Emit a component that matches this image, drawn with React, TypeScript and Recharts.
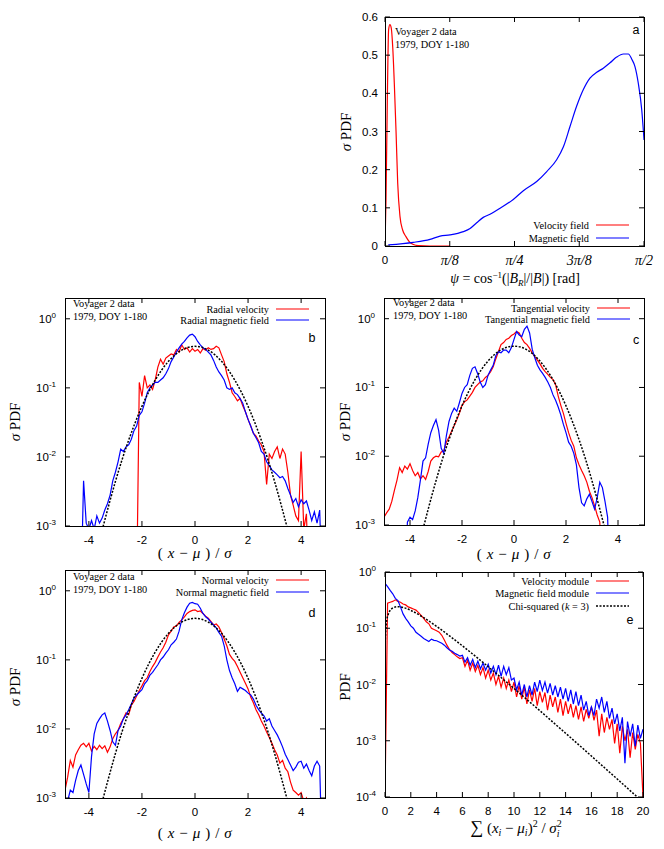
import React from 'react';
import { LineChart, Line, XAxis, YAxis } from 'recharts';

const SERIF = '"Liberation Serif", "DejaVu Serif", serif';
const SANS = '"Liberation Sans", Arial, sans-serif';
const RED = '#ff0000';
const BLUE = '#0000ff';

type Pt = { x: number; y: number };
const onGrid = (x0: number, step: number, ys: number[]): Pt[] =>
  ys.map((y, i) => ({ x: Math.round((x0 + i * step) * 1000) / 1000, y }));
const zip = (xs: number[], ys: number[]): Pt[] => xs.map((x, i) => ({ x, y: ys[i] }));

// panel a: angle PDF (x in rad)
const aVelX = [0, 0.006, 0.014, 0.022, 0.03, 0.038, 0.047, 0.057, 0.067, 0.077, 0.091, 0.107, 0.127, 0.148, 0.172, 0.202, 0.273, 0.394];
const aVelY = [0, 0.12, 0.38, 0.567, 0.58, 0.571, 0.52, 0.42, 0.3, 0.165, 0.077, 0.042, 0.0245, 0.011, 0.004, 0.001, 0, 0];
const aMagX = [0.02, 0.172, 0.273, 0.334, 0.394, 0.475, 0.516, 0.556, 0.596, 0.637, 0.698, 0.778, 0.839, 0.92, 0.981, 1.041,
  1.082, 1.122, 1.162, 1.203, 1.243, 1.284, 1.324, 1.365, 1.405, 1.446, 1.476, 1.496, 1.516, 1.536, 1.557, 1.571];
const aMagY = [0.003, 0.0096, 0.0175, 0.026, 0.029, 0.0376, 0.046, 0.061, 0.075, 0.083, 0.099, 0.122, 0.145, 0.169, 0.195, 0.226,
  0.26, 0.313, 0.366, 0.41, 0.44, 0.455, 0.466, 0.48, 0.495, 0.503, 0.503, 0.49, 0.47, 0.427, 0.357, 0.278];

const gaussX = [-3.5, -3.25, -3, -2.75, -2.5, -2.25, -2, -1.75, -1.5, -1.25, -1, -0.75, -0.5, -0.25, 0,
  0.25, 0.5, 0.75, 1, 1.25, 1.5, 1.75, 2, 2.25, 2.5, 2.75, 3, 3.25, 3.5];
const gaussY = [0.00087, 0.002, 0.0044, 0.0091, 0.0175, 0.0317, 0.054, 0.0863, 0.1295, 0.1826, 0.242, 0.3011, 0.3521, 0.3867, 0.3989,
  0.3867, 0.3521, 0.3011, 0.242, 0.1826, 0.1295, 0.0863, 0.054, 0.0317, 0.0175, 0.0091, 0.0044, 0.002, 0.00087];

// panel b: radial (x from start, step 0.1)
const bVelY = [0.0001, 0.12, 0.075, 0.15, 0.1, 0.11, 0.095, 0.13, 0.2, 0.26, 0.22, 0.27, 0.29, 0.31, 0.3, 0.36, 0.33, 0.42, 0.36, 0.38,
  0.33, 0.37, 0.34, 0.36, 0.32, 0.37, 0.35, 0.38, 0.36, 0.37, 0.4, 0.38, 0.3, 0.24, 0.16, 0.12, 0.085, 0.075, 0.065, 0.07,
  0.055, 0.045, 0.035, 0.028, 0.022, 0.02, 0.017, 0.015, 0.012, 0.004, 0.011, 0.0095, 0.012, 0.014, 0.0095, 0.013, 0.011, 0.006, 0.0028, 0.002,
  0.0014, 0.0012, 0.012, 0.0009, 0.0015, 0.0001];
const bMagY = [0.0001, 0.0045, 0.0011, 0.0009, 0.0012, 0.0009, 0.0014, 0.0011, 0.0013, 0.0017, 0.0021, 0.0028, 0.0045, 0.006, 0.0085, 0.013,
  0.012, 0.014, 0.015, 0.018, 0.024, 0.028, 0.04, 0.045, 0.06, 0.085, 0.1, 0.11, 0.12, 0.12, 0.13, 0.14, 0.16, 0.19, 0.24, 0.28,
  0.33, 0.38, 0.43, 0.47, 0.53, 0.58, 0.6, 0.55, 0.47, 0.42, 0.38, 0.36, 0.33, 0.3, 0.25, 0.2, 0.17, 0.15, 0.13, 0.1, 0.095,
  0.1, 0.085, 0.08, 0.07, 0.06, 0.045, 0.035, 0.028, 0.022, 0.019, 0.016, 0.012, 0.011, 0.0085, 0.0075, 0.0065, 0.006, 0.0055,
  0.005, 0.0052, 0.0045, 0.0035, 0.0028, 0.0022, 0.0025, 0.0019, 0.0024, 0.0021, 0.0023, 0.0017, 0.0012, 0.0016, 0.0011, 0.0017, 0.0001];

// panel c: tangential
const cVelY = [0.0013, 0.0015, 0.0017, 0.0022, 0.0032, 0.0045, 0.0068, 0.0058, 0.0072, 0.0065, 0.0078, 0.0062, 0.0052, 0.0058, 0.0047,
  0.0052, 0.0046, 0.006, 0.0085, 0.0095, 0.01, 0.0098, 0.0115, 0.012, 0.016, 0.019, 0.023, 0.028, 0.034, 0.042, 0.055, 0.062,
  0.066, 0.075, 0.085, 0.1, 0.11, 0.12, 0.125, 0.14, 0.15, 0.17, 0.2, 0.26, 0.33, 0.42, 0.45, 0.5, 0.52, 0.57, 0.6, 0.65, 0.62,
  0.52, 0.45, 0.42, 0.37, 0.32, 0.28, 0.25, 0.22, 0.19, 0.17, 0.155, 0.14, 0.13, 0.11, 0.075, 0.055, 0.042, 0.03, 0.022, 0.017,
  0.014, 0.0095, 0.0075, 0.0062, 0.0052, 0.0042, 0.0031, 0.0025, 0.0019, 0.0014, 0.0011, 0.0001];
const cMagY = [0.0001, 0.0011, 0.0013, 0.0012, 0.0016, 0.0025, 0.0045, 0.0085, 0.0095, 0.015, 0.022, 0.028, 0.034, 0.024, 0.013, 0.011,
  0.02, 0.032, 0.042, 0.05, 0.045, 0.06, 0.082, 0.1, 0.11, 0.15, 0.19, 0.2, 0.16, 0.12, 0.1, 0.11, 0.15, 0.18, 0.21, 0.29, 0.33,
  0.32, 0.35, 0.35, 0.32, 0.38, 0.5, 0.65, 0.58, 0.55, 0.7, 0.78, 0.62, 0.36, 0.27, 0.21, 0.18, 0.16, 0.14, 0.12, 0.1, 0.078,
  0.065, 0.052, 0.04, 0.029, 0.022, 0.016, 0.014, 0.011, 0.0075, 0.0035, 0.0021, 0.0019, 0.0024, 0.0028, 0.0022, 0.0017, 0.0025,
  0.0042, 0.0035, 0.0022, 0.0013, 0.0001];

// panel d: normal
const dVelY = [0.0013, 0.002, 0.0035, 0.0028, 0.0042, 0.005, 0.0058, 0.0062, 0.0055, 0.0062, 0.0048, 0.0056, 0.005, 0.0058, 0.0052,
  0.0057, 0.0046, 0.0055, 0.0072, 0.0085, 0.0095, 0.012, 0.014, 0.017, 0.016, 0.022, 0.025, 0.03, 0.036, 0.042, 0.05, 0.055,
  0.068, 0.08, 0.092, 0.11, 0.13, 0.15, 0.18, 0.23, 0.26, 0.3, 0.31, 0.35, 0.38, 0.42, 0.47, 0.5, 0.52, 0.53, 0.5, 0.51, 0.47,
  0.43, 0.4, 0.36, 0.32, 0.33, 0.3, 0.25, 0.2, 0.16, 0.12, 0.105, 0.095, 0.08, 0.066, 0.055, 0.046, 0.038, 0.029, 0.024, 0.019,
  0.016, 0.013, 0.011, 0.009, 0.0075, 0.0062, 0.005, 0.0042, 0.0032, 0.0035, 0.0027, 0.0024, 0.0017, 0.0013, 0.0012, 0.0011,
  0.0012, 0.0009, 0.001, 0.0001];
const dMagY = [0.0001, 0.0009, 0.0013, 0.0012, 0.0018, 0.0025, 0.003, 0.0022, 0.0016, 0.0012, 0.004, 0.0085, 0.012, 0.014, 0.016, 0.017,
  0.013, 0.0095, 0.0065, 0.0058, 0.0095, 0.011, 0.014, 0.016, 0.019, 0.023, 0.028, 0.031, 0.034, 0.037, 0.045, 0.05, 0.06, 0.066,
  0.075, 0.085, 0.1, 0.11, 0.125, 0.14, 0.165, 0.18, 0.2, 0.26, 0.38, 0.48, 0.58, 0.66, 0.68, 0.65, 0.64, 0.56, 0.47, 0.42, 0.39,
  0.35, 0.32, 0.29, 0.25, 0.22, 0.16, 0.1, 0.07, 0.055, 0.045, 0.035, 0.04, 0.038, 0.036, 0.033, 0.031, 0.027, 0.022, 0.019,
  0.017, 0.0155, 0.013, 0.014, 0.011, 0.0095, 0.0082, 0.0068, 0.0055, 0.0043, 0.0036, 0.003, 0.0025, 0.0028, 0.0033, 0.0034,
  0.0027, 0.0031, 0.0025, 0.0021, 0.0029, 0.0034, 0.0029, 0.0001];

// panel e: module PDFs (x from 0, step 0.2; one row = 2 units)
const eVelY = [
  0.0001, 0.28, 0.29, 0.3, 0.32, 0.3, 0.29, 0.27, 0.26, 0.24,
  0.23, 0.22, 0.21, 0.19, 0.17, 0.15, 0.13, 0.12, 0.1, 0.095,
  0.09, 0.085, 0.075, 0.062, 0.05, 0.042, 0.037, 0.034, 0.031, 0.029,
  0.03, 0.021, 0.027, 0.018, 0.024, 0.017, 0.022, 0.015, 0.02, 0.013,
  0.018, 0.012, 0.016, 0.01, 0.014, 0.009, 0.013, 0.0085, 0.012, 0.0075,
  0.011, 0.006, 0.0095, 0.0055, 0.009, 0.0045, 0.008, 0.005, 0.0085, 0.0042,
  0.0075, 0.0048, 0.0072, 0.0035, 0.0065, 0.004, 0.006, 0.0032, 0.0055, 0.0028,
  0.005, 0.003, 0.0045, 0.0026, 0.0042, 0.0024, 0.004, 0.0022, 0.0036, 0.0025,
  0.004, 0.0023, 0.0035, 0.0012, 0.003, 0.0014, 0.0026, 0.0016, 0.0024, 0.0009,
  0.002, 0.0006, 0.0018, 0.001, 0.0016, 0.0005, 0.0014, 0.0007, 0.0013, 0.0009,
  0.0001];
const eMagY = [
  0.63, 0.55, 0.47, 0.41, 0.34, 0.31, 0.24, 0.18, 0.15, 0.13,
  0.11, 0.1, 0.085, 0.078, 0.072, 0.066, 0.062, 0.058, 0.064, 0.061,
  0.06, 0.057, 0.054, 0.05, 0.045, 0.041, 0.039, 0.036, 0.034, 0.032,
  0.033, 0.025, 0.03, 0.022, 0.028, 0.02, 0.026, 0.019, 0.024, 0.018,
  0.023, 0.016, 0.021, 0.015, 0.022, 0.014, 0.021, 0.015, 0.02, 0.012,
  0.013, 0.008, 0.011, 0.0065, 0.01, 0.006, 0.0095, 0.0065, 0.011, 0.0075,
  0.012, 0.0078, 0.011, 0.007, 0.0105, 0.0065, 0.0095, 0.006, 0.009, 0.0055,
  0.0085, 0.005, 0.008, 0.0045, 0.0075, 0.0042, 0.0065, 0.0035, 0.005, 0.0028,
  0.004, 0.0028, 0.0055, 0.0038, 0.006, 0.0032, 0.005, 0.0025, 0.0038, 0.002,
  0.003, 0.0015, 0.0026, 0.0004, 0.0022, 0.0012, 0.002, 0.0008, 0.0019, 0.0011,
  0.0016];
const chiX = [0, 0.02, 0.1, 0.25, 0.5, 0.75, 1, 1.5, 2, 3, 4, 5, 6, 7, 8, 9, 10, 11, 12, 13, 14, 15, 16, 17, 18, 19, 20];
const chiY = [0.0001, 0.0559, 0.12, 0.176, 0.2197, 0.2375, 0.242, 0.2308, 0.2076, 0.1542, 0.108, 0.0732, 0.0487, 0.0319, 0.0207, 0.0133,
  0.0085, 0.0054, 0.00343, 0.00216, 0.00136, 0.000855, 0.000535, 0.000334, 0.000209, 0.00013, 0.000081];

const gTicks = [-4, -2, 0, 2, 4];
const logTicks3 = [0.001, 0.01, 0.1, 1];
const piTicks = [0, Math.PI / 8, Math.PI / 4, (3 * Math.PI) / 8, Math.PI / 2];
const piLabels = ['0', 'π/8', 'π/4', '3π/8', 'π/2'];

type Box = { left: number; top: number; w: number; h: number };
type Plot = { l: number; t: number; w: number; h: number };
type S = { data: Pt[]; color: string; dashed?: boolean; smooth?: boolean };

function Panel(props: {
  box: Box; plot: Plot; xDomain: [number, number]; xTicks: number[]; yDomain: [number, number]; yTicks: number[];
  log?: boolean; pi?: boolean; series: S[];
}) {
  const { box, plot } = props;
  const top = plot.t - box.top;
  const left = plot.l - box.left;
  const bottom = top + plot.h;
  const right = left + plot.w;

  const XTick = (p: any) => {
    const x = p.x;
    const v = p.payload.value;
    let label: React.ReactNode;
    if (props.pi) {
      const idx = piTicks.findIndex((t) => Math.abs(t - v) < 1e-6);
      label = idx === 0
        ? <text x={x} y={bottom + 14} dy="0.35em" textAnchor="middle" fontFamily={SANS} fontSize={11.5}>0</text>
        : <text x={x} y={bottom + 14} dy="0.35em" textAnchor="middle" fontFamily={SERIF} fontStyle="italic" fontSize={14}>{piLabels[idx]}</text>;
    } else {
      label = <text x={x} y={bottom + 14} dy="0.35em" textAnchor="middle" fontFamily={SANS} fontSize={11.5}>{String(v)}</text>;
    }
    return (
      <g>
        <line x1={x} x2={x} y1={bottom} y2={bottom - 5} stroke="#000" />
        <line x1={x} x2={x} y1={top} y2={top + 5} stroke="#000" />
        {label}
      </g>
    );
  };

  const YTick = (p: any) => {
    const y = p.y;
    const v = p.payload.value;
    const label = props.log ? (
      <text x={left - 9} y={y} dy="0.35em" textAnchor="end" fontFamily={SANS} fontSize={11.5}>
        10<tspan dy={-5} fontSize={8}>{String(Math.round(Math.log10(v)))}</tspan>
      </text>
    ) : (
      <text x={left - 7} y={y} dy="0.35em" textAnchor="end" fontFamily={SANS} fontSize={11.5}>{String(v)}</text>
    );
    return (
      <g>
        <line x1={left} x2={left + 5} y1={y} y2={y} stroke="#000" />
        <line x1={right} x2={right - 5} y1={y} y2={y} stroke="#000" />
        {label}
      </g>
    );
  };

  return (
    <div style={{ position: 'absolute', left: box.left, top: box.top }}>
      <LineChart width={box.w} height={box.h} margin={{ top, right: box.w - right, left: 0, bottom: 0 }}>
        <XAxis type="number" dataKey="x" domain={props.xDomain} ticks={props.xTicks} allowDataOverflow
          axisLine={false} tickLine={false} tick={XTick} height={box.h - bottom} interval={0} />
        <YAxis type="number" dataKey="y" domain={props.yDomain} ticks={props.yTicks} allowDataOverflow
          scale={props.log ? 'log' : 'linear'} axisLine={false} tickLine={false} tick={YTick} width={left} interval={0} />
        {props.series.map((s, i) => (
          <Line key={i} data={s.data} dataKey="y" type={s.smooth ? 'monotone' : 'linear'} stroke={s.color}
            strokeWidth={s.dashed ? 1.5 : 1.2} strokeDasharray={s.dashed ? '2 1.5' : undefined}
            dot={false} activeDot={false} isAnimationActive={false} />
        ))}
      </LineChart>
    </div>
  );
}

const Key = ({ x, y, color, dashed, children }: { x: number; y: number; color: string; dashed?: boolean; children: React.ReactNode }) => (
  <g>
    <text x={x} y={y} dy="0.35em" textAnchor="end" fontFamily={SERIF} fontSize={10.3}>{children}</text>
    <line x1={x + 7} x2={x + 40} y1={y} y2={y} stroke={color} strokeWidth={dashed ? 1.5 : 1.2} strokeDasharray={dashed ? '2 1.5' : undefined} />
  </g>
);

const Note = ({ x, y }: { x: number; y: number }) => (
  <g fontFamily={SERIF} fontSize={10.3}>
    <text x={x} y={y} dy="0.35em">Voyager 2 data</text>
    <text x={x} y={y + 13} dy="0.35em">1979, DOY 1-180</text>
  </g>
);

const YLab = ({ x, y, sigma = true }: { x: number; y: number; sigma?: boolean }) => (
  <text x={x} y={y} dy="0.35em" textAnchor="middle" transform={`rotate(-90 ${x} ${y})`} fontFamily={SERIF} fontSize={15}>
    {sigma ? <tspan fontStyle="italic">σ </tspan> : null}PDF
  </text>
);

const XLabG = ({ x, y }: { x: number; y: number }) => (
  <text x={x} y={y} dy="0.35em" textAnchor="middle" fontFamily={SERIF} fontSize={15} letterSpacing={0.6}>
    ( <tspan fontStyle="italic">x</tspan> − <tspan fontStyle="italic">μ</tspan> ) / <tspan fontStyle="italic">σ</tspan>
  </text>
);

const Frame = ({ p }: { p: Plot }) => <rect x={p.l + 0.5} y={p.t + 0.5} width={p.w} height={p.h} fill="none" stroke="#000" strokeWidth={1} />;

const PA: Plot = { l: 385, t: 17, w: 259, h: 229 };
const PB: Plot = { l: 65, t: 298, w: 260, h: 228 };
const PC: Plot = { l: 384, t: 298, w: 260, h: 227 };
const PD: Plot = { l: 65, t: 570, w: 260, h: 228 };
const PE: Plot = { l: 385, t: 572, w: 258, h: 225 };

export default function App() {
  const gauss = zip(gaussX, gaussY);
  return (
    <div style={{ position: 'absolute', left: 0, top: 0, width: 664, height: 849, background: '#fff', overflow: 'hidden' }}>
      <Panel box={{ left: 330, top: 0, w: 334, h: 290 }} plot={PA} xDomain={[0, Math.PI / 2]} xTicks={piTicks} pi
        yDomain={[0, 0.6]} yTicks={[0, 0.1, 0.2, 0.3, 0.4, 0.5, 0.6]}
        series={[{ data: zip(aVelX, aVelY), color: RED, smooth: true }, { data: zip(aMagX, aMagY), color: BLUE, smooth: true }]} />
      <Panel box={{ left: 0, top: 285, w: 332, h: 280 }} plot={PB} xDomain={[-4.9, 4.9]} xTicks={gTicks}
        yDomain={[0.001, 2]} yTicks={logTicks3} log
        series={[{ data: onGrid(-2.2, 0.1, bVelY), color: RED }, { data: onGrid(-4.3, 0.1, bMagY), color: BLUE },
          { data: gauss, color: '#000', dashed: true, smooth: true }]} />
      <Panel box={{ left: 330, top: 285, w: 334, h: 280 }} plot={PC} xDomain={[-5, 5]} xTicks={gTicks}
        yDomain={[0.001, 2]} yTicks={logTicks3} log
        series={[{ data: onGrid(-5, 0.1, cVelY), color: RED }, { data: onGrid(-4.2, 0.1, cMagY), color: BLUE },
          { data: gauss, color: '#000', dashed: true, smooth: true }]} />
      <Panel box={{ left: 0, top: 560, w: 332, h: 289 }} plot={PD} xDomain={[-4.9, 4.9]} xTicks={gTicks}
        yDomain={[0.001, 2]} yTicks={logTicks3} log
        series={[{ data: onGrid(-4.9, 0.1, dVelY), color: RED }, { data: onGrid(-4.9, 0.1, dMagY), color: BLUE },
          { data: gauss, color: '#000', dashed: true, smooth: true }]} />
      <Panel box={{ left: 330, top: 560, w: 334, h: 289 }} plot={PE} xDomain={[0, 20]} xTicks={[0, 2, 4, 6, 8, 10, 12, 14, 16, 18, 20]}
        yDomain={[0.0001, 1]} yTicks={[0.0001, 0.001, 0.01, 0.1, 1]} log
        series={[{ data: onGrid(0, 0.2, eVelY), color: RED }, { data: onGrid(0, 0.2, eMagY), color: BLUE },
          { data: zip(chiX, chiY), color: '#000', dashed: true, smooth: true }]} />

      <svg width={664} height={849} style={{ position: 'absolute', left: 0, top: 0, pointerEvents: 'none' }}>
        {[PA, PB, PC, PD, PE].map((p, i) => <Frame key={i} p={p} />)}

        {/* panel a */}
        <Note x={395} y={31} />
        <text x={636} y={30} dy="0.35em" textAnchor="middle" fontFamily={SANS} fontSize={12.5}>a</text>
        <Key x={589} y={225} color={RED}>Velocity field</Key>
        <Key x={589} y={238} color={BLUE}>Magnetic field</Key>
        <YLab x={346} y={132} />
        <text x={515} y={278} dy="0.35em" textAnchor="middle" fontFamily={SERIF} fontSize={14}>
          <tspan fontStyle="italic">ψ</tspan> = cos<tspan dy={-5} fontSize={9}>−1</tspan><tspan dy={5}>(|</tspan><tspan fontStyle="italic">B</tspan><tspan dy={3} fontSize={9} fontStyle="italic">R</tspan><tspan dy={-3}>|/|</tspan><tspan fontStyle="italic">B</tspan>|) [rad]
        </text>

        {/* panel b */}
        <Note x={73} y={303} />
        <text x={312} y={338} dy="0.35em" textAnchor="middle" fontFamily={SANS} fontSize={12.5}>b</text>
        <Key x={269} y={309} color={RED}>Radial velocity</Key>
        <Key x={269} y={320} color={BLUE}>Radial magnetic field</Key>
        <YLab x={15} y={422} />
        <XLabG x={195} y={553} />

        {/* panel c */}
        <Note x={393} y={302} />
        <text x={636} y={340} dy="0.35em" textAnchor="middle" fontFamily={SANS} fontSize={12.5}>c</text>
        <Key x={590} y={308} color={RED}>Tangential velocity</Key>
        <Key x={590} y={319} color={BLUE}>Tangential magnetic field</Key>
        <YLab x={345} y={422} />
        <XLabG x={514} y={554} />

        {/* panel d */}
        <Note x={73} y={576} />
        <text x={312} y={613} dy="0.35em" textAnchor="middle" fontFamily={SANS} fontSize={12.5}>d</text>
        <Key x={269} y={580} color={RED}>Normal velocity</Key>
        <Key x={269} y={592} color={BLUE}>Normal magnetic field</Key>
        <YLab x={15} y={687} />
        <XLabG x={195} y={833} />

        {/* panel e */}
        <text x={630} y={620} dy="0.35em" textAnchor="middle" fontFamily={SANS} fontSize={12.5}>e</text>
        <Key x={589} y={581} color={RED}>Velocity module</Key>
        <Key x={589} y={593} color={BLUE}>Magnetic field module</Key>
        <Key x={589} y={606} color="#000" dashed>Chi-squared (<tspan fontStyle="italic">k</tspan> = 3)</Key>
        <YLab x={345} y={687} sigma={false} />
        <text x={516} y={828} dy="0.35em" textAnchor="middle" fontFamily={SERIF} fontSize={15}>
          <tspan fontSize={18}>∑</tspan> (<tspan fontStyle="italic">x</tspan><tspan dy={3} fontSize={10} fontStyle="italic">i</tspan><tspan dy={-3}> − </tspan><tspan fontStyle="italic">μ</tspan><tspan dy={3} fontSize={10} fontStyle="italic">i</tspan><tspan dy={-3}>)</tspan><tspan dy={-6} fontSize={10}>2</tspan><tspan dy={6}> / </tspan><tspan fontStyle="italic">σ</tspan><tspan dy={-6} fontSize={10}>2</tspan><tspan dx={-5} dy={10} fontSize={10} fontStyle="italic">i</tspan>
        </text>
      </svg>
    </div>
  );
}
